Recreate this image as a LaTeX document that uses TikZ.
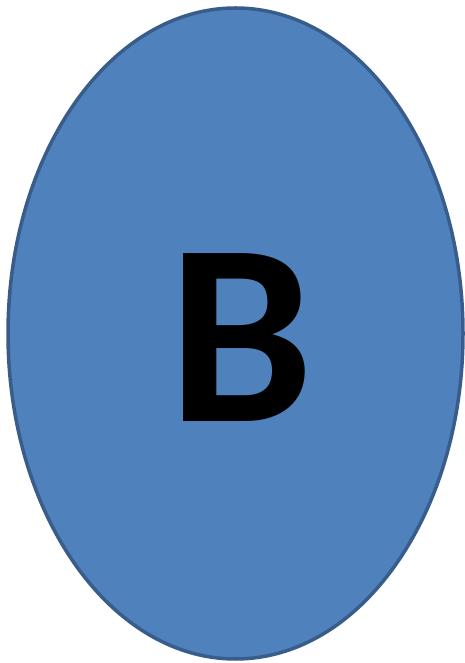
\documentclass[tikz,border=0pt]{standalone}
\usepackage{fontspec}
\setmainfont{Carlito}
\definecolor{ovalblue}{RGB}{79,129,189}
\definecolor{ovaledge}{RGB}{56,93,138}
\usetikzlibrary{shapes.geometric}
\begin{document}
\begin{tikzpicture}[x=1pt,y=1pt,
    oval/.style={ellipse, draw=ovaledge, fill=ovalblue, line width=3.5pt, minimum width=455pt, minimum height=651pt, inner sep=0pt},
    letter/.style={font=\fontsize{259}{259}\selectfont\bfseries, text=black, inner sep=0pt}
  ]
  \useasboundingbox (0,0) rectangle (464,663);
  % Oval
  \node[oval] (shape) at (235.5,329.5) {};
  % Label
  \node[letter] (label) at (241,325) {B};
\end{tikzpicture}
\end{document}
